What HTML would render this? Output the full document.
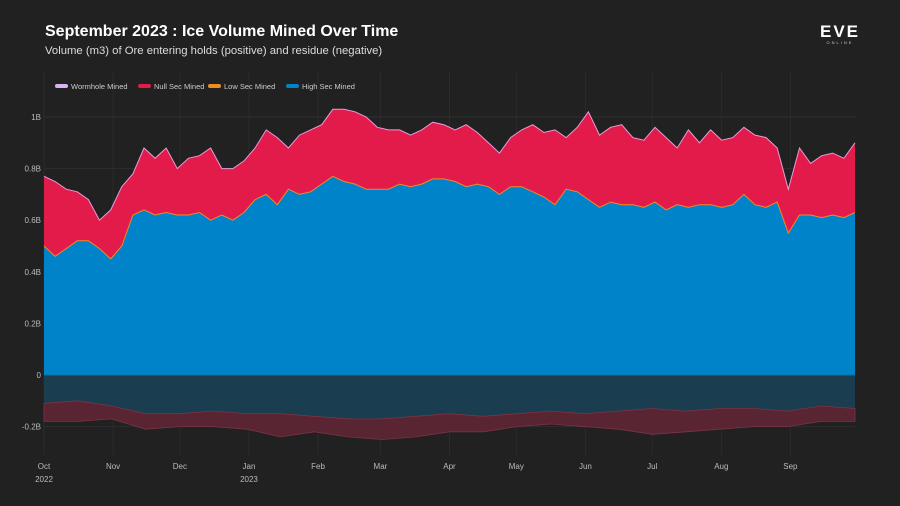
<!DOCTYPE html>
<html><head><meta charset="utf-8">
<style>
html,body{margin:0;padding:0;background:#212121;}
#wrap{position:relative;width:900px;height:506px;overflow:hidden;background:#212121;font-family:"Liberation Sans",sans-serif;}
</style></head>
<body>
<div id="wrap">
<svg id="chart" width="900" height="506" xmlns="http://www.w3.org/2000/svg">
  <text x="45" y="36" fill="#ffffff" font-size="16" font-weight="bold" font-family="Liberation Sans, sans-serif">September 2023 : Ice Volume Mined Over Time</text>
  <text x="45" y="54" fill="#dddddd" font-size="11.3" font-family="Liberation Sans, sans-serif">Volume (m3) of Ore entering holds (positive) and residue (negative)</text>
  <g>
    <text x="840" y="37" fill="#ffffff" font-size="17" font-weight="bold" text-anchor="middle" letter-spacing="2" font-family="Liberation Sans, sans-serif">EVE</text>
    <text x="840" y="44" fill="#cccccc" font-size="4" text-anchor="middle" letter-spacing="2" font-family="Liberation Sans, sans-serif">ONLINE</text>
  </g>
  <g id="grid"></g>
  <g id="areas"></g>
  <g id="axes"></g>
  <g id="legend"></g>
</svg>
</div>
<script>
// ---- data ----
const totalMined = [0.77,0.75,0.72,0.71,0.68,0.60,0.64,0.73,0.78,0.88,0.84,0.88,0.80,0.84,0.85,0.88,0.80,0.80,0.83,0.88,0.95,0.92,0.88,0.93,0.95,0.97,1.03,1.03,1.02,1.00,0.96,0.95,0.95,0.93,0.95,0.98,0.97,0.95,0.97,0.94,0.90,0.86,0.92,0.95,0.97,0.94,0.95,0.92,0.96,1.02,0.93,0.96,0.97,0.92,0.91,0.96,0.92,0.88,0.95,0.90,0.95,0.91,0.92,0.96,0.93,0.92,0.88,0.72,0.88,0.82,0.85,0.86,0.84,0.90];
const highSecMined = [0.50,0.46,0.49,0.52,0.52,0.49,0.45,0.50,0.62,0.64,0.62,0.63,0.62,0.62,0.63,0.60,0.62,0.60,0.63,0.68,0.70,0.66,0.72,0.70,0.71,0.74,0.77,0.75,0.74,0.72,0.72,0.72,0.74,0.73,0.74,0.76,0.76,0.75,0.73,0.74,0.73,0.70,0.73,0.73,0.71,0.69,0.66,0.72,0.71,0.68,0.65,0.67,0.66,0.66,0.65,0.67,0.64,0.66,0.65,0.66,0.66,0.65,0.66,0.70,0.66,0.65,0.67,0.55,0.62,0.62,0.61,0.62,0.61,0.63];
const highSecResidue = [-0.11,-0.10,-0.12,-0.15,-0.15,-0.14,-0.15,-0.15,-0.16,-0.17,-0.17,-0.16,-0.15,-0.16,-0.15,-0.14,-0.15,-0.14,-0.13,-0.14,-0.13,-0.13,-0.14,-0.12,-0.13];
const totalResidue = [-0.18,-0.18,-0.17,-0.21,-0.20,-0.20,-0.21,-0.24,-0.22,-0.24,-0.25,-0.24,-0.22,-0.22,-0.20,-0.19,-0.20,-0.21,-0.23,-0.22,-0.21,-0.20,-0.20,-0.18,-0.18];
const yTicks = [1,0.8,0.6,0.4,0.2,0,-0.2];
const yTickLabels = ["1B","0.8B","0.6B","0.4B","0.2B","0","-0.2B"];
const monthDays = [0,31,61,92,123,151,182,212,243,273,304,335];
const monthLabels = ["Oct","Nov","Dec","Jan","Feb","Mar","Apr","May","Jun","Jul","Aug","Sep"];
const yearLabels = ["2022","","","2023","","","","","","","",""];
const legendNames = ["Wormhole Mined","Null Sec Mined","Low Sec Mined","High Sec Mined"];
const legendColors = ["#d8b4f0","#e31b4b","#f08a24","#0083c8"];

// ---- scales ----
const X0=44, X1=855, TOTAL_DAYS=364, Y0=375, PX_PER_B=258;
const xScale = d => X0 + d/TOTAL_DAYS*(X1-X0);
const yScale = v => Y0 - v*PX_PER_B;
const NS="http://www.w3.org/2000/svg";
function mk(tag, attrs, parent){const e=document.createElementNS(NS,tag);for(const k in attrs)e.setAttribute(k,attrs[k]);parent.appendChild(e);return e;}
function pts(arr){return arr.map((v,i)=>[xScale(i/(arr.length-1)*TOTAL_DAYS), yScale(v)]);}
function line(p){return p.map((q,i)=>(i?'L':'M')+q[0].toFixed(1)+','+q[1].toFixed(1)).join(' ');}
function areaBetween(top,bottom){
  const b=bottom.slice().reverse();
  return line(top)+' '+b.map(q=>'L'+q[0].toFixed(1)+','+q[1].toFixed(1)).join(' ')+' Z';
}

const grid=document.getElementById('grid');
const axes=document.getElementById('axes');
const areas=document.getElementById('areas');

yTicks.forEach((t,i)=>{
  const gl=mk('line',{x1:X0,x2:X1,y1:yScale(t),y2:yScale(t),stroke:'#2e2e2e','stroke-width':1},grid);
  
  
  const tl=mk('text',{x:X0-3,y:yScale(t)+3,fill:'#bbbbbb','font-size':8,'text-anchor':'end'},axes);
  tl.textContent=yTickLabels[i];
  
  
});
monthDays.forEach((d,i)=>{
  const x=xScale(d);
  const gl=mk('line',{x1:x,x2:x,y1:72,y2:455,stroke:'#2b2b2b','stroke-width':1},grid);
  
  
  const tl=mk('text',{x:x,y:469,fill:'#bbbbbb','font-size':8,'text-anchor':'middle'},axes);
  tl.textContent=monthLabels[i];
  
  
  if(yearLabels[i]){
    const yl=mk('text',{x:x,y:482,fill:'#bbbbbb','font-size':8,'text-anchor':'middle'},axes);
    yl.textContent=yearLabels[i];
    
    
  }
});

const zeroPos=[[X0,Y0],[X1,Y0]];
const topP=pts(totalMined), hsP=pts(highSecMined), hrP=pts(highSecResidue), trP=pts(totalResidue);

const a1=mk('path',{d:areaBetween(hsP,zeroPos),fill:'#0083c8'},areas);


const a2=mk('path',{d:areaBetween(topP,hsP),fill:'#e31b4b'},areas);


const l1=mk('path',{d:line(hsP),fill:'none',stroke:'#f08a24','stroke-width':1},areas);


const l2=mk('path',{d:line(topP),fill:'none',stroke:'#e0a0d8','stroke-width':1},areas);


const a3=mk('path',{d:areaBetween(zeroPos,hrP),fill:'#1b3d50'},areas);


const a4=mk('path',{d:areaBetween(hrP,trP),fill:'#5a2532',stroke:'#7a3345','stroke-width':0.8},areas);


const zl=mk('line',{x1:X0,x2:X1,y1:Y0,y2:Y0,stroke:'#0a6ea5','stroke-width':1},areas);



const legend=document.getElementById('legend');
const lx=[55,138,208,286];
legendNames.forEach((n,i)=>{
  const g=mk('g',{},legend);
  
  
  mk('rect',{x:lx[i],y:84,width:13,height:4,rx:2,fill:legendColors[i]},g);
  const t=mk('text',{x:lx[i]+16,y:89,fill:'#cccccc','font-size':7.5},g);
  t.textContent=n;
});
</script>
</body></html>
